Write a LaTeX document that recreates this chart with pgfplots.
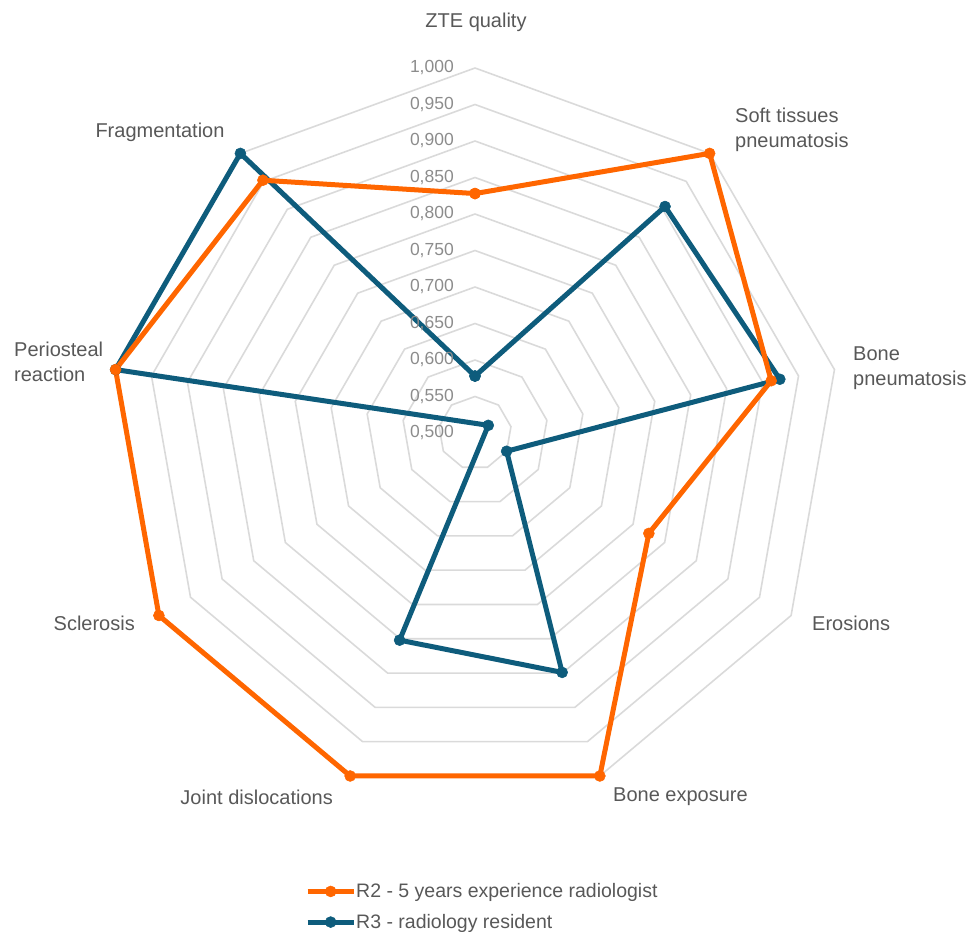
\documentclass[border=0pt]{standalone}
\usepackage{fontspec}
\setmainfont{Liberation Sans}
\usepackage{pgfplots}
\usepackage{pgfplotstable}
\pgfplotsset{compat=1.18}
\definecolor{rorange}{RGB}{255,102,0}
\definecolor{rblue}{RGB}{14,92,124}
\definecolor{ringgray}{RGB}{218,218,218}
\definecolor{labgray}{RGB}{88,88,88}
\definecolor{tickgray}{RGB}{140,140,140}

% angles of the nine spokes (degrees), closed; r = unit ring radius
\pgfplotstableread{
a r
90 1
50 1
10 1
-30 1
-70 1
-110 1
-150 1
170 1
130 1
90 1
}\ringtab

% R2 - 5 years experience radiologist
\pgfplotstableread{
a v
90 0.828
50 1.000
10 0.912
-30 0.775
-70 1.000
-110 1.000
-150 1.000
170 1.000
130 0.952
90 0.828
}\rtwo

% R3 - radiology resident
\pgfplotstableread{
a v
90 0.578
50 0.905
10 0.924
-30 0.550
-70 0.849
-110 0.802
-150 0.479
170 1.000
130 1.000
90 0.578
}\rthree

\begin{document}
\begin{tikzpicture}
\useasboundingbox (0pt,0pt) rectangle (973pt,931pt);
\begin{axis}[
  at={(475pt,498pt)}, anchor=origin,
  x=730pt, y=730pt,
  xmin=-0.55, xmax=0.55, ymin=-0.55, ymax=0.55,
  hide axis, clip=false,
  legend image code/.code={\draw[mark repeat=2,mark phase=2,#1] plot coordinates {(0pt,0pt) (23pt,0pt) (46pt,0pt)};},
  legend style={at={(axis cs:-0.2329,-0.649)}, anchor=west, draw=none, fill=none,
    font=\fontsize{19.5}{23}\selectfont, text=labgray, inner sep=0pt, row sep=15pt,
    nodes={inner sep=0pt},
    /tikz/every even column/.append style={column sep=7pt}},
  legend cell align=left,
]
\pgfplotsinvokeforeach{1,...,10}{
  \addplot[ringgray, line width=1.6pt, forget plot]
    table[x expr={#1*0.05*\thisrow{r}*cos(\thisrow{a})}, y expr={#1*0.05*\thisrow{r}*sin(\thisrow{a})}] \ringtab;
}
\addplot[rblue, line width=5pt, line join=round, mark=*, mark size=5.5pt,
  mark options={line width=0.5pt, fill=rblue}, forget plot]
  table[x expr={(\thisrow{v}-0.5)*cos(\thisrow{a})}, y expr={(\thisrow{v}-0.5)*sin(\thisrow{a})}] \rthree;
\addplot[rorange, line width=5pt, line join=round, mark=*, mark size=5.5pt,
  mark options={line width=0.5pt, fill=rorange}, forget plot]
  table[x expr={(\thisrow{v}-0.5)*cos(\thisrow{a})}, y expr={(\thisrow{v}-0.5)*sin(\thisrow{a})}] \rtwo;
\addlegendimage{rorange, line width=5pt, mark=*, mark size=5.5pt, mark options={line width=0.5pt, fill=rorange}}
\addlegendentry{R2 - 5 years experience radiologist}
\addlegendimage{rblue, line width=5pt, mark=*, mark size=5.5pt, mark options={line width=0.5pt, fill=rblue}}
\addlegendentry{R3 - radiology resident}
\end{axis}

% radial tick labels
\begin{scope}[every node/.style={anchor=east, inner sep=0pt, text=tickgray, font=\fontsize{17.5}{20}\selectfont}]
\node at (454pt,498pt) {0,500};
\node at (454pt,534.5pt) {0,550};
\node at (454pt,571pt) {0,600};
\node at (454pt,607.5pt) {0,650};
\node at (454pt,644pt) {0,700};
\node at (454pt,680.5pt) {0,750};
\node at (454pt,717pt) {0,800};
\node at (454pt,753.5pt) {0,850};
\node at (454pt,790pt) {0,900};
\node at (454pt,826.5pt) {0,950};
\node at (454pt,863pt) {1,000};
\end{scope}

% category labels
\begin{scope}[every node/.style={inner sep=0pt, text=labgray, font=\fontsize{20}{25}\selectfont}]
\node[anchor=center] at (476pt,909pt) {ZTE quality};
\node[anchor=west, align=left] at (735pt,801pt) {Soft tissues\\pneumatosis};
\node[anchor=west, align=left] at (853pt,562.5pt) {Bone\\pneumatosis};
\node[anchor=west] at (812pt,308pt) {Erosions};
\node[anchor=west] at (613pt,134pt) {Bone exposure};
\node[anchor=east] at (333pt,134pt) {Joint dislocations};
\node[anchor=east] at (135pt,308pt) {Sclerosis};
\node[anchor=west, align=left] at (14pt,569pt) {Periosteal\\reaction};
\node[anchor=center] at (160pt,799pt) {Fragmentation};
\end{scope}
\end{tikzpicture}
\end{document}
